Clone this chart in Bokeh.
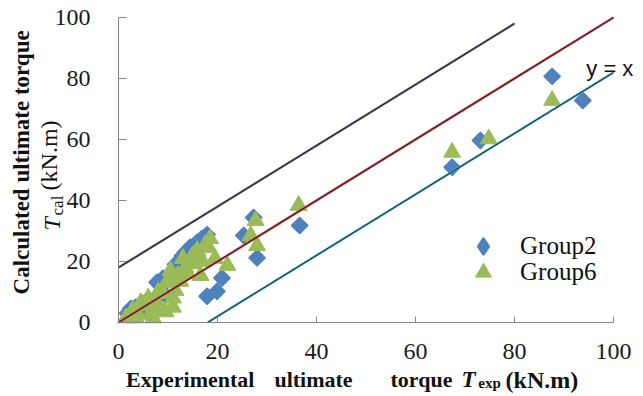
import math
from bokeh.plotting import figure
from bokeh.models import Label, Legend, LegendItem, FixedTicker, Range1d
from bokeh.embed import file_html
from bokeh.resources import INLINE

# ---------------- data ----------------
group2_x = [1.8, 2.5, 3.5, 4.5, 5.1, 6.0, 7.0, 7.8, 8.5, 9.0, 9.5, 10.5, 11.5,
            12.0, 12.9, 13.5, 14.5, 15.9, 16.8, 17.9, 17.9, 19.9, 20.9, 25.3,
            27.3, 28.0, 36.6, 67.4, 73.1, 87.6, 93.8]
group2_y = [3.0, 4.6, 5.0, 3.5, 6.2, 7.5, 5.0, 13.2, 12.0, 14.5, 9.0, 15.0,
            19.0, 17.0, 21.8, 23.0, 24.7, 26.3, 27.5, 28.8, 8.6, 10.2, 14.6,
            28.5, 34.4, 21.2, 31.8, 50.9, 59.7, 80.7, 72.8]

group6_x = [1.5, 2.8, 3.5, 4.0, 4.5, 5.5, 6.0, 6.5, 7.0, 7.5, 8.0, 8.0, 8.5,
            9.0, 9.5, 9.8, 10.0, 10.5, 11.0, 11.0, 11.5, 12.0, 12.5, 13.0,
            13.5, 14.0, 14.9, 15.0, 15.9, 16.6, 17.0, 17.5, 18.2, 18.5, 19.5,
            22.0, 26.7, 27.7, 28.0, 36.4, 67.4, 74.8, 87.6]
group6_y = [1.5, 4.0, 1.5, 2.5, 6.5, 5.5, 8.0, 3.0, 1.5, 6.0, 10.0, 6.0, 4.0,
            9.5, 3.5, 13.0, 14.0, 17.0, 5.0, 8.0, 10.5, 15.5, 13.5, 21.0,
            18.0, 16.0, 19.3, 22.0, 23.6, 15.4, 20.0, 25.5, 24.6, 27.5, 21.0,
            18.7, 28.5, 33.4, 25.2, 38.4, 55.8, 60.2, 72.8]

upper_x = [0, 80]
upper_y = [18, 98]
equal_x = [0, 100]
equal_y = [0, 100]
lower_x = [18, 100]
lower_y = [0, 82]

x_ticks = [0, 20, 40, 60, 80, 100]
y_ticks = [0, 20, 40, 60, 80, 100]

SERIF = "'Liberation Serif'"
SANS = "'Liberation Sans'"
INK = "#111111"

# ---------------- figure ----------------
# frame covers the whole canvas; axes are pinned at 0 with fixed_location
p = figure(width=640, height=394, output_backend="svg", toolbar_location=None,
           x_range=Range1d(-23.838, 105.455), y_range=Range1d(-23.607, 105.574),
           min_border_left=0, min_border_right=0,
           min_border_top=0, min_border_bottom=0)
p.grid.visible = False
p.outline_line_color = None
p.background_fill_color = "white"
p.border_fill_color = "white"

for ax in (p.xaxis[0], p.yaxis[0]):
    ax.fixed_location = 0
    ax.bounds = (0, 100)
    ax.axis_line_color = "#868686"
    ax.major_tick_line_color = "#868686"
    ax.minor_tick_line_color = None
    ax.major_tick_out = 0
    ax.major_label_text_font = SERIF
    ax.major_label_text_font_size = "24px"
    ax.major_label_text_color = "#1a1a1a"

p.xaxis.ticker = FixedTicker(ticks=x_ticks)
p.yaxis.ticker = FixedTicker(ticks=y_ticks)
p.xaxis.major_tick_in = 6
p.yaxis.major_tick_in = 8
p.xaxis.major_label_standoff = 22
p.yaxis.major_label_standoff = 28

# markers
r2 = p.scatter(group2_x, group2_y, marker="square", size=11, angle=math.pi / 4,
               fill_color="#4F81BD", line_color="#4F81BD", line_width=2,
               line_join="round")
r2_key = p.scatter(group2_x, group2_y, marker="diamond", size=14, visible=False,
                   fill_color="#4F81BD", line_color="#4F81BD", line_width=3,
                   line_join="round")
r6 = p.scatter(group6_x, group6_y, marker="triangle", size=17,
               fill_color="#9BBB59", line_color="#9BBB59", line_width=1)

# reference lines
p.line(upper_x, upper_y, line_color="#6f6680", line_width=2.4)
p.line(upper_x, upper_y, line_color="#1e1a26", line_width=1)
p.line(equal_x, equal_y, line_color="#c0504d", line_width=2.4)
p.line(equal_x, equal_y, line_color="#2a1414", line_width=1)
p.line(lower_x, lower_y, line_color="#4bacc6", line_width=2.4)
p.line(lower_x, lower_y, line_color="#152a30", line_width=1)

# legend: one block per series so rows can sit closer than the key size
legend_style = dict(padding=0, margin=0, border_line_color=None,
                    background_fill_alpha=0, inactive_fill_alpha=0,
                    label_text_font=SERIF, label_text_color=INK,
                    label_text_font_size="25px", label_height=20)
p.add_layout(Legend(items=[LegendItem(label="Group2", renderers=[r2_key])],
                    location=(464, 129), glyph_width=38, glyph_height=38,
                    label_standoff=18, **legend_style))
p.add_layout(Legend(items=[LegendItem(label="Group6", renderers=[r6])],
                    location=(463, 102), glyph_width=40, glyph_height=40,
                    label_standoff=17, **legend_style))

# y = x annotation
p.add_layout(Label(x=94.5, y=83.3, text="y = x", text_font=SANS,
                   text_font_size="22px", text_align="left",
                   text_baseline="middle", text_color=INK))

# x axis title
XT_BASE = -18.7
for txt, xx in (("Experimental", 14.5), ("ultimate", 39.4), ("torque", 61.2)):
    p.add_layout(Label(x=xx, y=XT_BASE, text=txt, text_font=SERIF,
                       text_font_size="22px", text_font_style="bold",
                       text_align="center", text_baseline="alphabetic",
                       text_color=INK))
p.add_layout(Label(x=69.3, y=XT_BASE, text="T", text_font=SERIF,
                   text_font_size="23px", text_font_style="bold italic",
                   text_align="left", text_baseline="alphabetic",
                   text_color=INK))
p.add_layout(Label(x=72.7, y=XT_BASE - 1.3, text="exp", text_font=SERIF,
                   text_font_size="15px", text_font_style="bold",
                   text_align="left", text_baseline="alphabetic",
                   text_color=INK))
p.add_layout(Label(x=78.2, y=XT_BASE, text="(kN.m)", text_font=SERIF,
                   text_font_size="24px", text_font_style="bold",
                   text_align="left", text_baseline="alphabetic",
                   text_color=INK))

# y axis title
p.add_layout(Label(x=-19.6, y=52.5, text="Calculated ultimate torque",
                   text_font=SERIF, text_font_size="23px",
                   text_font_style="bold", angle=math.pi / 2,
                   text_align="center", text_baseline="middle",
                   text_color=INK))
p.add_layout(Label(x=-13.43, y=30.2, text="T", text_font=SERIF,
                   text_font_size="24px", text_font_style="italic",
                   angle=math.pi / 2, text_align="left",
                   text_baseline="middle", text_color=INK))
p.add_layout(Label(x=-12.42, y=35.1, text="cal", text_font=SERIF,
                   text_font_size="17px", angle=math.pi / 2,
                   text_align="left", text_baseline="middle",
                   text_color=INK))
p.add_layout(Label(x=-13.94, y=43.3, text="(kN.m)", text_font=SERIF,
                   text_font_size="24px", angle=math.pi / 2,
                   text_align="left", text_baseline="middle",
                   text_color=INK))

open("out.html", "w").write(file_html(p, INLINE))
